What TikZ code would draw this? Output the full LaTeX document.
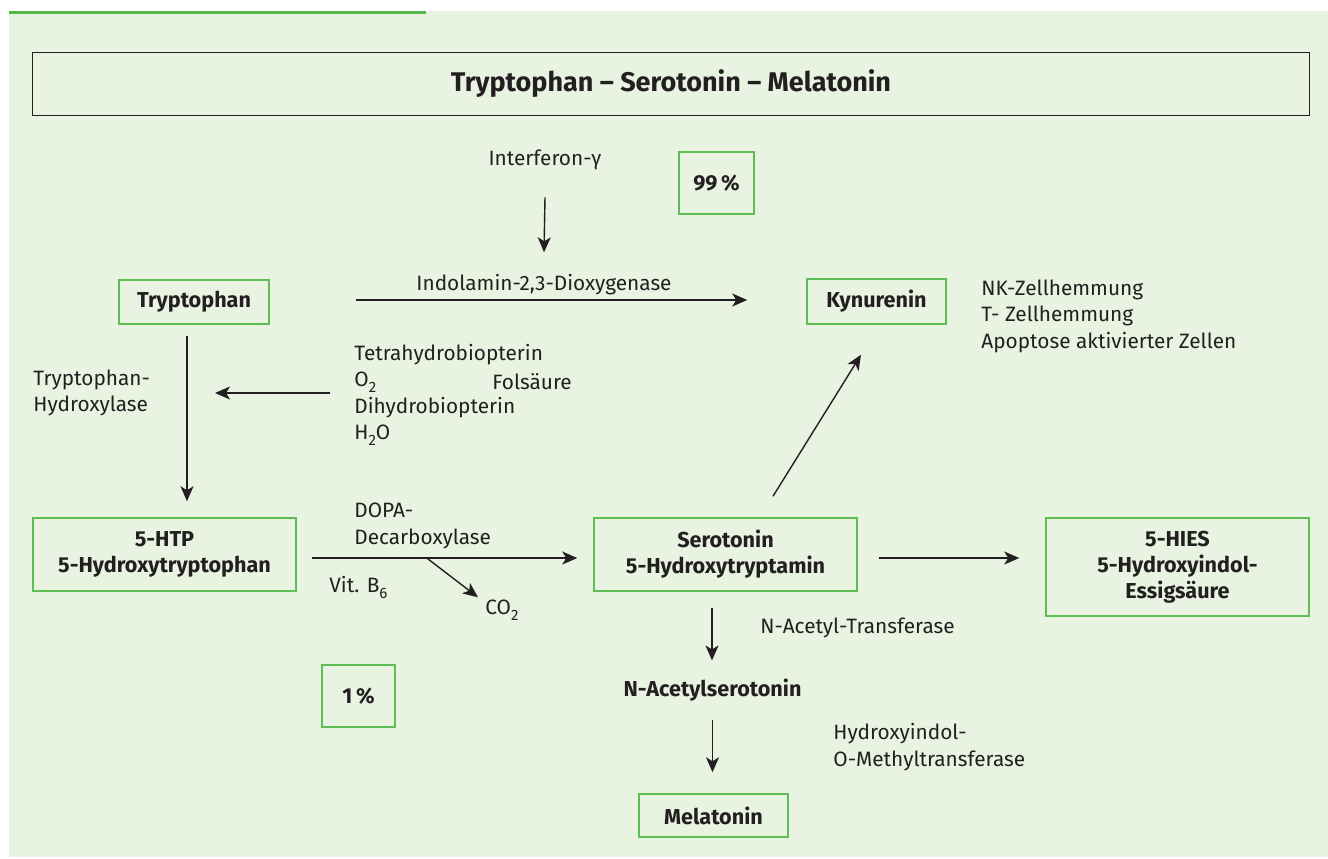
\documentclass[tikz,border=0pt]{standalone}
\usepackage{fontspec}
\setmainfont{Fira Sans}
\usetikzlibrary{arrows.meta}
\definecolor{panel}{RGB}{232,243,225}
\definecolor{boxgreen}{RGB}{94,190,84}
\definecolor{bar}{RGB}{82,183,72}
\definecolor{ink}{RGB}{35,31,32}
\newcommand\lowsub[1]{\raisebox{-0.55ex}{\fontsize{7.5}{7.5}\selectfont #1}}
\tikzset{
  stage/.style={draw=boxgreen, line width=0.75pt, align=center, inner sep=0pt, text=ink, font=\fontsize{10.8}{13}\selectfont\bfseries},
  lbl/.style={align=left, inner sep=0pt, text=ink, font=\fontsize{10.4}{13.25}\selectfont},
  arr/.style={-{Stealth[length=7.5pt,width=6.5pt,inset=2pt]}, line width=0.7pt, draw=ink},
}
\begin{document}
\begin{tikzpicture}[x=0.5pt,y=-0.5pt]
\useasboundingbox (0,0) rectangle (1328,858);
\fill[panel] (9,11) rectangle (1328,857);
\draw[bar, line width=1.5pt] (9,12.5) -- (425.5,12.5);
\node[draw=ink, line width=0.8pt, minimum width=638.5pt, minimum height=31.5pt, inner sep=0pt, text=ink, font=\fontsize{13.5}{15}\selectfont\bfseries] (title) at (671,84) {Tryptophan -- Serotonin -- Melatonin};

\node[stage, minimum width=37.5pt, minimum height=31pt] (p99) at (716.5,183) {99\,\%};
\node[stage, minimum width=75pt, minimum height=22pt] (trp) at (194,302) {Tryptophan};
\node[stage, minimum width=69.5pt, minimum height=22.5pt] (kyn) at (876.5,301.5) {Kynurenin};
\node[stage, minimum width=131.5pt, minimum height=36.5pt] (htp) at (164.5,554.5) {5-HTP\\5-Hydroxytryptophan};
\node[stage, minimum width=131.5pt, minimum height=36.5pt] (ser) at (725.5,554.5) {Serotonin\\5-Hydroxytryptamin};
\node[stage, minimum width=131.5pt, minimum height=49pt] (hies) at (1177.5,567) {5-HIES\\5-Hydroxyindol-\\Essigsäure};
\node[inner sep=0pt, text=ink, font=\fontsize{10.8}{13}\selectfont\bfseries] (nas) at (712.5,690) {N-Acetylserotonin};
\node[stage, minimum width=74.5pt, minimum height=21.5pt] (mel) at (713.5,815.5) {Melatonin};
\node[stage, minimum width=36.5pt, minimum height=31pt] (p1) at (358.5,696) {1\,\%};

\node[lbl] (ifn) at (545,160) {Interferon-γ};
\node[lbl] (ido) at (544,285) {Indolamin-2,3-Dioxygenase};
\node[lbl, anchor=west] (eff) at (981,316) {NK-Zellhemmung\\T- Zellhemmung\\Apoptose aktivierter Zellen};
\node[lbl, anchor=west] (tph) at (33,393) {Tryptophan-\\Hydroxylase};
\node[lbl, anchor=west] (cof) at (354,395) {Tetrahydrobiopterin\\O\lowsub{2}\\Dihydrobiopterin\\H\lowsub{2}O};
\node[lbl, anchor=west] (fol) at (492,382) {Folsäure};
\node[lbl, anchor=west] (ddc) at (354,526) {DOPA-\\Decarboxylase};
\node[lbl, anchor=west] (b6) at (329,587) {Vit. B\lowsub{6}};
\node[lbl, anchor=west] (co2) at (485,610) {CO\lowsub{2}};
\node[lbl, anchor=west] (nat) at (760,628) {N-Acetyl-Transferase};
\node[lbl, anchor=west] (homt) at (833,747) {Hydroxyindol-\\O-Methyltransferase};

\draw[arr] ([yshift=-13.5pt]ifn.south) -- ([yshift=11pt]ido.north);
\draw[arr, shorten <=43pt, shorten >=29.5pt] ([yshift=1pt]trp.east) -- ([yshift=0.75pt]kyn.west);
\draw[arr, shorten <=5.5pt, shorten >=8pt] ([xshift=-3.5pt]trp.south) -- ([xshift=-3.5pt]trp.south |- htp.north);
\draw[arr] ([xshift=-12pt,yshift=1pt]cof.west) -- ([xshift=-69.5pt,yshift=1pt]cof.west);
\draw[arr, shorten <=7.5pt, shorten >=8pt] ([yshift=-1.75pt]htp.east) -- ([yshift=-1.75pt]ser.west);
\coordinate (dc) at ([shift={(130,3.5)}]htp.east);
\draw[arr] (dc) -- ([shift={(-7,-2)}]co2.north west);
\draw[arr, shorten <=10.5pt, shorten >=13pt] ([yshift=-1.75pt]ser.east) -- ([yshift=-1.75pt]ser.east -| hies.west);
\draw[arr] ([shift={(47.5,-21)}]ser.north) -- ([shift={(-15.5,30)}]kyn.south);
\draw[arr] ([shift={(-13.5,16)}]ser.south) -- ([xshift=-0.25pt,yshift=9pt]nas.north);
\draw[arr, shorten <=9pt, shorten >=10.5pt] (nas.south) -- (nas.south |- mel.north);
\end{tikzpicture}
\end{document}
